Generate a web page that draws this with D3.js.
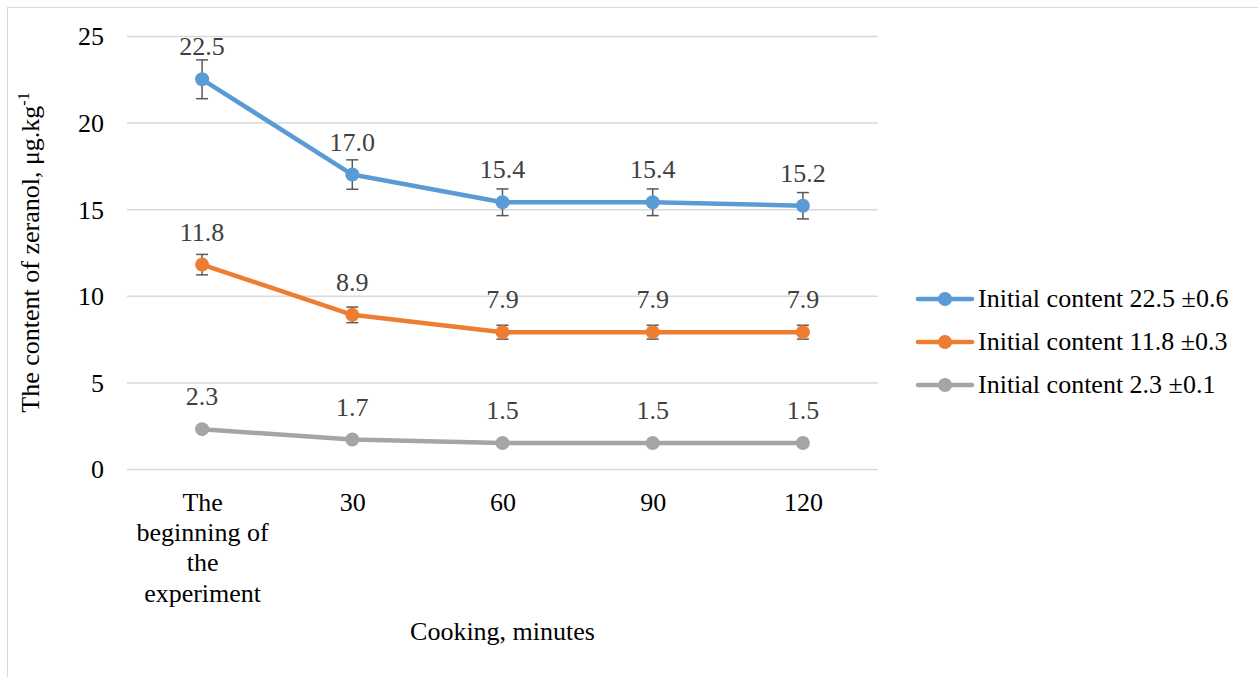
<!DOCTYPE html>
<html><head><meta charset="utf-8">
<script src="https://cdn.jsdelivr.net/npm/d3@7"></script>
<style>body{margin:0;background:#fff}svg{display:block}</style>
</head><body>
<svg id="c" width="1258" height="677" font-family="Liberation Serif, Times New Roman, serif"></svg>
<script>
const categories = ["The beginning of the experiment", "30", "60", "90", "120"];
const categoryLines = [["The","beginning of","the","experiment"],["30"],["60"],["90"],["120"]];
const seriesNames = ["Initial content 22.5 ±0.6", "Initial content 11.8 ±0.3", "Initial content 2.3 ±0.1"];
const seriesColors = ["#5B9BD5", "#ED7D31", "#A5A5A5"];
const blueValues = [22.5, 17.0, 15.4, 15.4, 15.2];
const orangeValues = [11.8, 8.9, 7.9, 7.9, 7.9];
const grayValues = [2.3, 1.7, 1.5, 1.5, 1.5];
const blueErrors = [1.12, 0.85, 0.77, 0.77, 0.76];
const orangeErrors = [0.59, 0.45, 0.4, 0.4, 0.4];
const grayErrors = [0.12, 0.09, 0.08, 0.08, 0.08];
const yTicks = [0, 5, 10, 15, 20, 25];
const yTitle = "The content of zeranol, μg.kg";
const xTitle = "Cooking, minutes";

const FONT = "Liberation Serif, Times New Roman, serif";
const FS = 26;
const series = [
  {name: seriesNames[0], color: seriesColors[0], values: blueValues, errors: blueErrors},
  {name: seriesNames[1], color: seriesColors[1], values: orangeValues, errors: orangeErrors},
  {name: seriesNames[2], color: seriesColors[2], values: grayValues, errors: grayErrors}
];

const svg = d3.select("#c");
svg.append("rect").attr("x", 7.5).attr("y", 7.5).attr("width", 1270).attr("height", 700)
  .attr("fill", "none").attr("stroke", "#d9d9d9").attr("stroke-width", 1);

const L = 127, R = 878, T = 36, B = 469;
const x = d3.scalePoint().domain(categories).range([L, R]).padding(0.5);
const y = d3.scaleLinear().domain([0, 25]).range([B, T]);

const yAxis = d3.axisLeft(y).tickValues(yTicks).tickSize(-(R - L)).tickFormat(d3.format("d")).tickPadding(23);
const gy = svg.append("g").attr("transform", `translate(${L},0)`).call(yAxis)
  .attr("font-family", FONT).attr("font-size", FS);
gy.select(".domain").remove();
gy.selectAll(".tick line").attr("stroke", "#d9d9d9").attr("stroke-width", 1.5);
gy.selectAll(".tick text").attr("fill", "#000").attr("dy", "0.34em");

const xAxis = d3.axisBottom(x).tickSize(0).tickFormat("");
const gx = svg.append("g").attr("transform", `translate(0,${B})`).call(xAxis)
  .attr("font-family", FONT).attr("font-size", FS);
gx.select(".domain").remove();
gx.selectAll(".tick").each(function(d, i) {
  const t = d3.select(this).append("text").attr("text-anchor", "middle").attr("fill", "#000");
  categoryLines[i].forEach((ln, j) => {
    t.append("tspan").attr("x", 0).attr("y", 42 + j * 30.2).text(ln);
  });
});

const line = d3.line().x((d, i) => x(categories[i])).y(d => y(d));
series.forEach(s => {
  svg.append("path").datum(s.values).attr("d", line).attr("fill", "none")
    .attr("stroke", s.color).attr("stroke-width", 4.5).attr("stroke-linejoin", "round").attr("stroke-linecap", "round");
});
series.forEach(s => {
  const g = svg.append("g").attr("stroke", "#595959").attr("stroke-width", 1.5);
  s.values.forEach((v, i) => {
    const cx = x(categories[i]);
    const y1 = y(v + s.errors[i]), y2 = y(v - s.errors[i]);
    g.append("line").attr("x1", cx).attr("x2", cx).attr("y1", y1).attr("y2", y2);
    g.append("line").attr("x1", cx - 6).attr("x2", cx + 6).attr("y1", y1).attr("y2", y1);
    g.append("line").attr("x1", cx - 6).attr("x2", cx + 6).attr("y1", y2).attr("y2", y2);
  });
});
series.forEach(s => {
  svg.append("g").selectAll("circle").data(s.values).join("circle")
    .attr("cx", (d, i) => x(categories[i])).attr("cy", d => y(d)).attr("r", 7).attr("fill", s.color);
  svg.append("g").attr("font-family", FONT).attr("font-size", FS).selectAll("text").data(s.values).join("text")
    .attr("x", (d, i) => x(categories[i])).attr("y", d => y(d) - 24)
    .attr("text-anchor", "middle").attr("fill", "#404040")
    .text(d => d3.format(".1f")(d));
});

const yt = svg.append("text").attr("transform", `translate(39,${(T + B) / 2}) rotate(-90)`)
  .attr("text-anchor", "middle").attr("font-family", FONT).attr("font-size", FS).attr("fill", "#000");
yt.append("tspan").text(yTitle);
yt.append("tspan").attr("font-size", 16).attr("dy", -10).text("-1");

svg.append("text").attr("x", (L + R) / 2).attr("y", 640).attr("text-anchor", "middle")
  .attr("font-family", FONT).attr("font-size", FS).attr("fill", "#000").text(xTitle);

const lg = svg.append("g").attr("font-family", FONT).attr("font-size", FS);
series.forEach((s, i) => {
  const ly = 299 + i * 43;
  lg.append("line").attr("x1", 918).attr("x2", 972).attr("y1", ly).attr("y2", ly)
    .attr("stroke", s.color).attr("stroke-width", 4.5).attr("stroke-linecap", "round");
  lg.append("circle").attr("cx", 945).attr("cy", ly).attr("r", 7).attr("fill", s.color);
  lg.append("text").attr("x", 978).attr("y", ly + 8).attr("fill", "#000").text(s.name);
});
</script>
</body></html>
